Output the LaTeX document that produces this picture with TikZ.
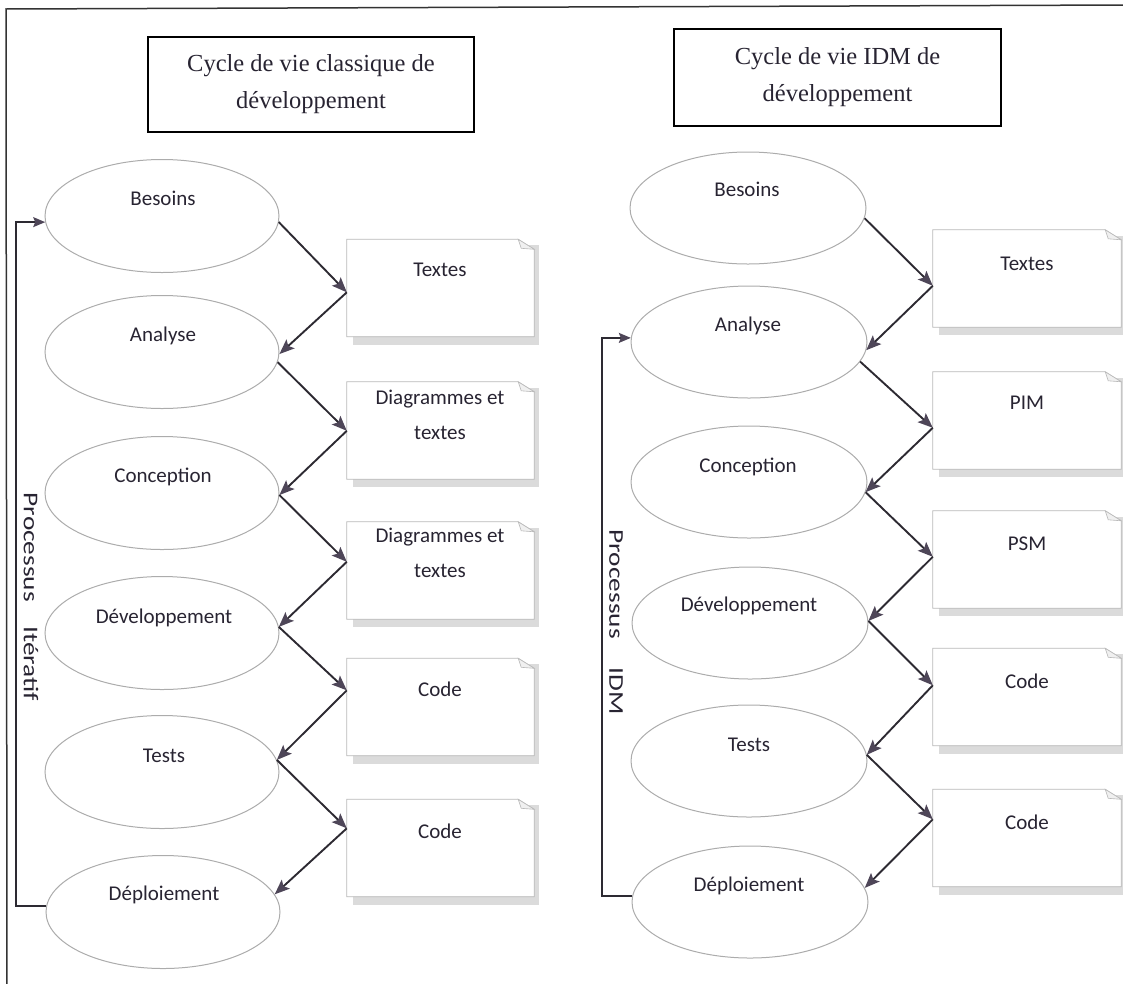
\documentclass[tikz,border=0pt]{standalone}
\usepackage{fontspec}
\usepackage{graphicx}
\setmainfont{Carlito}
\newfontfamily\titlefont{Liberation Serif}
\usetikzlibrary{arrows.meta,shapes.geometric,calc}
\pgfdeclarelayer{bg}
\pgfsetlayers{bg,main}

\definecolor{ink}{RGB}{45,42,50}
\definecolor{tipc}{RGB}{78,70,88}
\definecolor{txt}{RGB}{40,36,50}

\tikzset{
  phase/.style={ellipse, draw=gray!65, line width=1pt, inner sep=0pt, fill=white},
  lphase/.style={phase, minimum width=234pt, minimum height=113pt},
  rphase/.style={phase, minimum width=236pt, minimum height=112pt},
  plabel/.style={font=\fontsize{21}{35}\selectfont, text=txt, inner sep=0pt,
                 text height=13pt, text depth=0pt, align=center},
  doc/.style={rectangle, minimum height=97pt, inner sep=0pt},
  ldoc/.style={doc, minimum width=187pt},
  rdoc/.style={doc, minimum width=188pt},
  docline/.style={draw=gray!55, line width=0.8pt, fill=white},
  fold/.style={draw=gray!55, line width=0.6pt, fill=gray!12},
  docshadow/.style={fill=gray!28},
  flow/.style={draw=ink, line width=1.9pt,
               -{Stealth[length=15pt,width=12pt,inset=3pt,color=tipc]}},
  backloop/.style={draw=ink, line width=1.5pt,
               -{Stealth[length=12pt,width=10pt,inset=2pt,color=tipc]}},
  titlebox/.style={draw=black, line width=1.8pt, inner sep=0pt, align=center,
                   text=txt, font=\titlefont\fontsize{24.5}{37}\selectfont},
  vlabel/.style={rotate=-90, inner sep=0pt, text=txt,
                 font=\fontsize{21}{24}\selectfont},
  frame/.style={draw=black!80, line width=1.5pt}
}

\begin{document}
\begin{tikzpicture}[x=1pt,y=-1pt]
\useasboundingbox (0,0) rectangle (1123,983);

% page frame
\draw[frame] (7,990) -- (6,9) -- (1130,5);

% titles
\node[titlebox, minimum width=326pt, minimum height=95pt] (t1) at (311,84.5)
  {Cycle de vie classique de\\développement};
\node[titlebox, minimum width=327pt, minimum height=97pt] (t2) at (837.5,77.5)
  {Cycle de vie IDM de\\développement};

% classic life cycle: phases
\node[lphase] (L1) at (162,216) {};
\node[lphase] (L2) at (162,352) {};
\node[lphase] (L3) at (162,493) {};
\node[lphase] (L4) at (162,633) {};
\node[lphase] (L5) at (162,772) {};
\node[lphase] (L6) at (163,912) {};

% classic life cycle: produced documents
\node[ldoc] (D1) at (440.5,288) {};
\node[ldoc] (D2) at (440.5,430.5) {};
\node[ldoc] (D3) at (440.5,570.5) {};
\node[ldoc] (D4) at (440.5,707) {};
\node[ldoc] (D5) at (440.5,848) {};

% MDE life cycle: phases
\node[rphase] (R1) at (748,208) {};
\node[rphase] (R2) at (749,342) {};
\node[rphase] (R3) at (749,482) {};
\node[rphase] (R4) at (750,623) {};
\node[rphase] (R5) at (749,761) {};
\node[rphase] (R6) at (750,902) {};

% MDE life cycle: produced models
\node[rdoc] (E1) at (1027,278.5) {};
\node[rdoc] (E2) at (1027,420.5) {};
\node[rdoc] (E3) at (1027,559.5) {};
\node[rdoc] (E4) at (1027,697) {};
\node[rdoc] (E5) at (1027,838) {};

% document shapes: shadow, dog-eared sheet, fold
\begin{pgfonlayer}{bg}
\foreach \n in {D1,D2,D3,D4,D5,E1,E2,E3,E4,E5}
  \fill[docshadow] ([shift={(6pt,-6pt)}]\n.north west) rectangle ([shift={(5pt,-8pt)}]\n.south east);
\end{pgfonlayer}
\foreach \n in {D1,D2,D3,D4,D5,E1,E2,E3,E4,E5}{
  \path[docline] (\n.north west) -- ([xshift=-16pt]\n.north east)
     -- ([yshift=-10pt]\n.north east) -- (\n.south east) -- (\n.south west) -- cycle;
  \path[fold] ([xshift=-16pt]\n.north east) -- ([yshift=-10pt]\n.north east)
     -- ([xshift=-13pt,yshift=-9pt]\n.north east) -- cycle;
}

% phase names
\node[plabel] (l1) at (163,199) {Besoins};
\node[plabel] (l2) at (163,335) {Analyse};
\node[plabel] (l3) at (163,476) {Conception};
\node[plabel] (l4) at (164,617) {Développement};
\node[plabel] (l5) at (164,756) {Tests};
\node[plabel] (l6) at (164,894) {Déploiement};

\node[plabel] (r1) at (747,190) {Besoins};
\node[plabel] (r2) at (748,325) {Analyse};
\node[plabel] (r3) at (748,466) {Conception};
\node[plabel] (r4) at (749,605) {Développement};
\node[plabel] (r5) at (749,745) {Tests};
\node[plabel] (r6) at (749,885) {Déploiement};

% document names
\node[plabel] (d1) at (440,270) {Textes};
\node[plabel] (d2) at (440,433) {Diagrammes et\\textes};
\node[plabel] (d3) at (440,571) {Diagrammes et\\textes};
\node[plabel] (d4) at (440,690) {Code};
\node[plabel] (d5) at (440,832) {Code};

\node[plabel] (e1) at (1027,264) {Textes};
\node[plabel] (e2) at (1027,403) {PIM};
\node[plabel] (e3) at (1027,544) {PSM};
\node[plabel] (e4) at (1027,682) {Code};
\node[plabel] (e5) at (1027,823) {Code};

% classic flow: phase -> document -> next phase
\draw[flow] (L1.-3.5) -- ([yshift=-53pt]D1.north west);
\draw[flow] ([yshift=-53pt]D1.north west) -- (L2.-1.5);
\draw[flow] (L2.-5.5) -- ([yshift=-49pt]D2.north west);
\draw[flow] ([yshift=-49pt]D2.north west) -- (L3.-1);
\draw[flow] (L3.-1.5) -- ([yshift=-40pt]D3.north west);
\draw[flow] ([yshift=-40pt]D3.north west) -- (L4.3.5);
\draw[flow] (L4.3.5) -- ([yshift=-32pt]D4.north west);
\draw[flow] ([yshift=-32pt]D4.north west) -- (L5.6.5);
\draw[flow] (L5.6.5) -- ([yshift=-29pt]D5.north west);
\draw[flow] ([yshift=-29pt]D5.north west) -- (L6.9.2);

% MDE flow
\draw[flow] (R1.-5.4) -- ([yshift=-56pt]E1.north west);
\draw[flow] ([yshift=-56pt]E1.north west) -- (R2.-4.4);
\draw[flow] (R2.-10.3) -- ([yshift=-56pt]E2.north west);
\draw[flow] ([yshift=-56pt]E2.north west) -- (R3.-5.4);
\draw[flow] (R3.-5.4) -- ([yshift=-46pt]E3.north west);
\draw[flow] ([yshift=-46pt]E3.north west) -- (R4.1.5);
\draw[flow] (R4.1.5) -- ([yshift=-37pt]E4.north west);
\draw[flow] ([yshift=-37pt]E4.north west) -- (R5.3.9);
\draw[flow] (R5.3.9) -- ([yshift=-30pt]E5.north west);
\draw[flow] ([yshift=-30pt]E5.north west) -- (R6.7.5);

% iteration loops
\coordinate (kl) at (16,600);
\coordinate (kr) at (602,600);
\draw[backloop] (L6.177) -- (L6.177 -| kl) |- (L1.183);
\draw[backloop] (R6.177.5) -- (R6.177.5 -| kr) |- (R2.178.5);

\node[vlabel] (v1) at (31,597) {\scalebox{1.3}[1]{Processus\hspace{19pt}Itératif}};
\node[vlabel] (v2) at (616,622) {\scalebox{1.3}[1]{Processus\hspace{22pt}IDM}};
\end{tikzpicture}
\end{document}
